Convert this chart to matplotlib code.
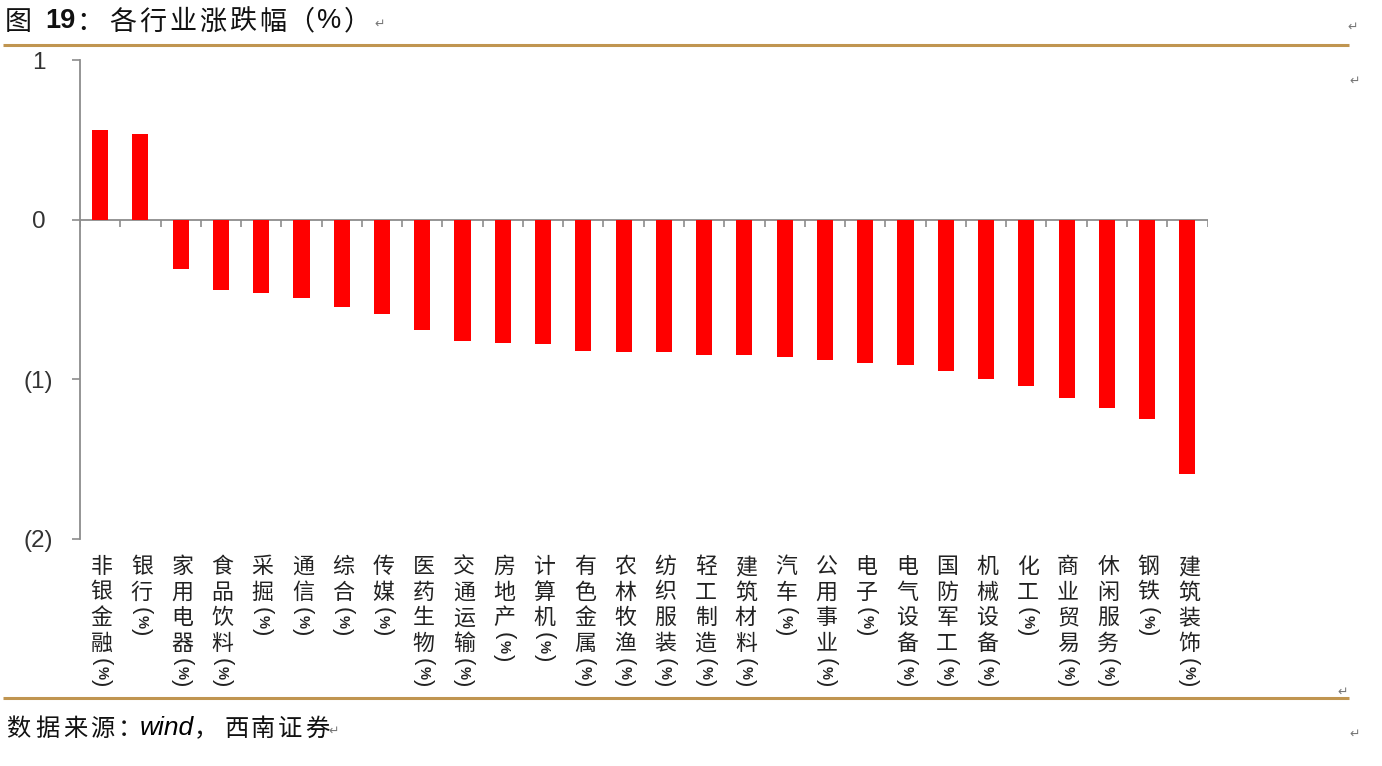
import numpy as np
from matplotlib import pyplot as plt

plt.rcParams['font.family'] = ['Noto Sans CJK SC', 'DejaVu Sans']

industries = ["非银金融", "银行", "家用电器", "食品饮料", "采掘", "通信", "综合", "传媒",
              "医药生物", "交通运输", "房地产", "计算机", "有色金属", "农林牧渔", "纺织服装",
              "轻工制造", "建筑材料", "汽车", "公用事业", "电子", "电气设备", "国防军工",
              "机械设备", "化工", "商业贸易", "休闲服务", "钢铁", "建筑装饰"]
changes = [0.56, 0.535, -0.31, -0.44, -0.46, -0.49, -0.55, -0.59, -0.69, -0.76,
           -0.77, -0.78, -0.82, -0.83, -0.83, -0.85, -0.85, -0.86, -0.88, -0.90,
           -0.91, -0.95, -1.00, -1.04, -1.12, -1.18, -1.25, -1.59]
y_ticks = [1, 0, -1, -2]
y_tick_labels = ["1", "0", "(1)", "(2)"]

W, H = 1382, 766
RED = "#ff0000"
GOLD = "#c09550"
GREY = "#8c8c8c"
PX = 0.72  # pixels to points at dpi 100


def fx(x):
    return x / W


def fy(y):
    return 1 - y / H


def put(fig, x, y, s, size, **kw):
    kw.setdefault("ha", "center")
    kw.setdefault("va", "center")
    kw.setdefault("color", "#111111")
    fig.text(fx(x), fy(y), s, fontsize=size, **kw)


def main():
    fig = plt.figure(figsize=(W / 100, H / 100), dpi=100)
    ax = fig.add_axes([fx(80), fy(539), (1207.5 - 80) / W, (539 - 60) / H])

    x = np.arange(len(changes))
    ax.bar(x, changes, width=0.4, color=RED, zorder=2)
    ax.set_xlim(-0.5, len(changes) - 0.5)
    ax.set_ylim(-2, 1)

    for side in ["top", "right", "bottom"]:
        ax.spines[side].set_visible(False)
    ax.spines["left"].set_color(GREY)
    ax.spines["left"].set_linewidth(1.3)

    # zero line with ticks sitting between the categories
    ax.axhline(0, color=GREY, lw=1.3, zorder=1)
    ax.set_xticks(x[:-1] + 0.5)
    ax.set_xticklabels([])
    ax.tick_params(axis="x", length=0)
    ax.vlines(np.append(x - 0.5, x[-1] + 0.5), -0.045, 0, color=GREY, lw=1.2, zorder=1)

    ax.set_yticks(y_ticks)
    ax.set_yticklabels(y_tick_labels, family="Liberation Sans", fontsize=17.5,
                       color="#333333", ha="center")
    ax.tick_params(axis="y", length=8 * PX, width=1.2, color=GREY, pad=24)

    # vertical category labels, one character at a time
    tr = ax.get_xaxis_transform()
    for i, name in enumerate(industries):
        for k, ch in enumerate(name):
            ax.annotate(ch, xy=(i, 0), xycoords=tr,
                        xytext=(1.5 * PX, -(28 + k * 25.6) * PX), textcoords="offset points",
                        ha="center", va="center", fontsize=15.8, color="#222222")
        # the (%) lies on its side, parens drawn bigger than the sign
        mid = 26 + (len(name) - 1) * 25.6 + 30.5
        for dy, s, size in [(-10.5, "(", 16), (0, "%", 10.5), (10.5, ")", 16)]:
            ax.annotate(s, xy=(i, 0), xycoords=tr,
                        xytext=(1 * PX, -(mid + dy) * PX), textcoords="offset points",
                        ha="center", va="center", rotation=270, fontsize=size,
                        color="#222222", family="Liberation Sans", weight="bold" if s == "%" else "normal")

    # title
    put(fig, 18, 22, "图", 19.5)
    put(fig, 60, 21, "19", 19.5, family="Liberation Sans", weight="bold")
    put(fig, 90, 22, "：", 19.5)
    for cx, ch in zip([123, 153, 183, 213, 243, 273], "各行业涨跌幅"):
        put(fig, cx, 22, ch, 19.5)
    put(fig, 314, 22, "（", 19.5, ha="right")
    put(fig, 329, 21, "%", 19.5, family="Liberation Sans")
    put(fig, 344, 22, "）", 19.5, ha="left")

    # source line
    for cx, ch in zip([18, 47, 75, 102, 130], "数据来源："):
        put(fig, cx, 729, ch, 17.5)
    put(fig, 167, 728, "wind", 19, family="Liberation Sans", style="italic", color="black")
    put(fig, 206, 729, "，", 17.5)
    for cx, ch in zip([237, 263, 290, 317], "西南证券"):
        put(fig, cx, 729, ch, 17.5)

    # rules under the title and above the source
    for ry in [45, 698]:
        fig.add_artist(plt.Line2D([fx(3), fx(1349)], [fy(ry), fy(ry)], color=GOLD, lw=2.2,
                                  solid_capstyle="butt"))

    # Word paragraph marks left in the screenshot
    for mx, my in [(380, 24), (1353, 27), (1355, 81), (1343, 692), (1355, 734), (334, 731)]:
        put(fig, mx, my, "↵", 9, color="#777777", family="DejaVu Sans")

    fig.savefig("out.png", dpi=100)


if __name__ == '__main__':
    main()
